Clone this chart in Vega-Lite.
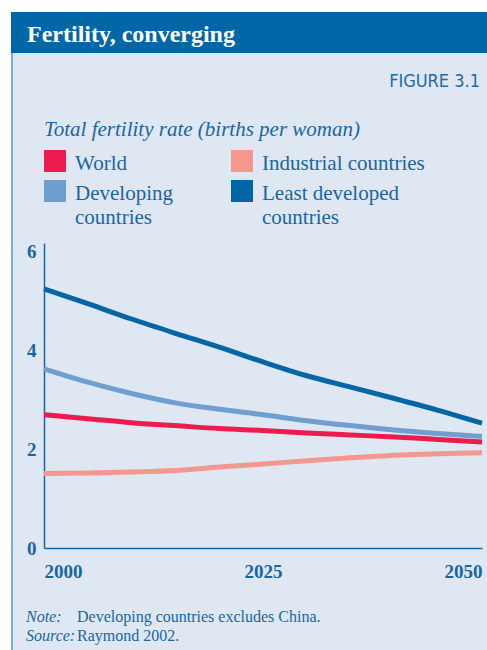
{
  "$schema": "https://vega.github.io/schema/vega-lite/v6.json",
  "background": "#dfe7f2",
  "padding": 0,
  "spacing": 0,
  "config": {
    "view": {"stroke": null},
    "concat": {"spacing": 0},
    "font": "Liberation Serif"
  },
  "vconcat": [
    {"width": 487, "height": 12, "view": {"fill": "#ffffff"}, "data": {"values": [{}]}, "mark": {"type": "text", "text": ""}},
    {
      "spacing": 0,
      "hconcat": [
        {"width": 11, "height": 41, "view": {"fill": "#ffffff"}, "data": {"values": [{}]}, "mark": {"type": "text", "text": ""}},
        {
          "width": 476, "height": 41, "view": {"fill": "#0066a6"},
          "title": {"text": "Fertility, converging", "orient": "top", "anchor": "start", "offset": -54, "dx": 16, "baseline": "alphabetic", "color": "#ffffff", "font": "Liberation Serif", "fontSize": 24, "fontWeight": "bold"},
          "data": {"values": [{}]}, "mark": {"type": "text", "text": ""}
        }
      ]
    },
    {
      "spacing": 0,
      "hconcat": [
        {"width": 11, "height": 597, "view": {"fill": "#ffffff"}, "data": {"values": [{}]}, "mark": {"type": "text", "text": ""}},
        {"width": 2, "height": 597, "view": {"fill": "#7eaad4"}, "data": {"values": [{}]}, "mark": {"type": "text", "text": ""}},
        {
          "spacing": 0,
          "vconcat": [
            {
              "width": 443, "height": 189,
              "title": {"text": "FIGURE 3.1", "orient": "top", "anchor": "end", "offset": -52, "dx": -7, "baseline": "alphabetic", "color": "#1b6aab", "font": "Liberation Sans Narrow, DejaVu Sans Condensed, Liberation Sans", "fontSize": 18, "fontWeight": "normal"},
              "data": {"values": [{}]}, "mark": {"type": "text", "text": ""}
            },
            {
              "width": 438, "height": 305,
              "data": {"values": [
                {"year": 2000, "series": "Industrial countries", "value": 1.51},
                {"year": 2005, "series": "Industrial countries", "value": 1.52},
                {"year": 2010, "series": "Industrial countries", "value": 1.54},
                {"year": 2015, "series": "Industrial countries", "value": 1.57},
                {"year": 2020, "series": "Industrial countries", "value": 1.64},
                {"year": 2025, "series": "Industrial countries", "value": 1.70},
                {"year": 2030, "series": "Industrial countries", "value": 1.77},
                {"year": 2035, "series": "Industrial countries", "value": 1.83},
                {"year": 2040, "series": "Industrial countries", "value": 1.88},
                {"year": 2045, "series": "Industrial countries", "value": 1.91},
                {"year": 2050, "series": "Industrial countries", "value": 1.93},
                {"year": 2000, "series": "Developing countries", "value": 3.63},
                {"year": 2005, "series": "Developing countries", "value": 3.36},
                {"year": 2010, "series": "Developing countries", "value": 3.13},
                {"year": 2015, "series": "Developing countries", "value": 2.94},
                {"year": 2020, "series": "Developing countries", "value": 2.81},
                {"year": 2025, "series": "Developing countries", "value": 2.70},
                {"year": 2030, "series": "Developing countries", "value": 2.58},
                {"year": 2035, "series": "Developing countries", "value": 2.48},
                {"year": 2040, "series": "Developing countries", "value": 2.39},
                {"year": 2045, "series": "Developing countries", "value": 2.32},
                {"year": 2050, "series": "Developing countries", "value": 2.26},
                {"year": 2000, "series": "World", "value": 2.70},
                {"year": 2005, "series": "World", "value": 2.62},
                {"year": 2010, "series": "World", "value": 2.54},
                {"year": 2015, "series": "World", "value": 2.48},
                {"year": 2020, "series": "World", "value": 2.42},
                {"year": 2025, "series": "World", "value": 2.38},
                {"year": 2030, "series": "World", "value": 2.33},
                {"year": 2035, "series": "World", "value": 2.29},
                {"year": 2040, "series": "World", "value": 2.25},
                {"year": 2045, "series": "World", "value": 2.20},
                {"year": 2050, "series": "World", "value": 2.15},
                {"year": 2000, "series": "Least developed countries", "value": 5.25},
                {"year": 2005, "series": "Least developed countries", "value": 4.95},
                {"year": 2010, "series": "Least developed countries", "value": 4.64},
                {"year": 2015, "series": "Least developed countries", "value": 4.35},
                {"year": 2020, "series": "Least developed countries", "value": 4.07},
                {"year": 2025, "series": "Least developed countries", "value": 3.77},
                {"year": 2030, "series": "Least developed countries", "value": 3.49},
                {"year": 2035, "series": "Least developed countries", "value": 3.26},
                {"year": 2040, "series": "Least developed countries", "value": 3.03},
                {"year": 2045, "series": "Least developed countries", "value": 2.79},
                {"year": 2050, "series": "Least developed countries", "value": 2.53}
              ]},
              "mark": {"type": "line", "strokeWidth": 5, "interpolate": "monotone"},
              "encoding": {
                "x": {
                  "field": "year", "type": "quantitative",
                  "scale": {"domain": [2000, 2050], "nice": false, "zero": false},
                  "axis": {"values": [2000, 2025, 2050], "format": "d", "labelFlush": true, "title": null, "grid": false, "ticks": false, "tickSize": 0, "labelPadding": 29, "labelBaseline": "alphabetic", "labelFont": "Liberation Serif", "labelFontSize": 19, "labelFontWeight": "bold", "labelColor": "#1766a6", "domainColor": "#1766a6", "domainWidth": 1.5}
                },
                "y": {
                  "field": "value", "type": "quantitative",
                  "scale": {"domain": [0, 6.18], "nice": false},
                  "axis": {"values": [0, 2, 4, 6], "title": null, "grid": false, "ticks": false, "tickSize": 0, "labelPadding": 8, "minExtent": 31, "maxExtent": 31, "labelFlush": false, "labelFont": "Liberation Serif", "labelFontSize": 19, "labelFontWeight": "bold", "labelColor": "#1766a6", "domainColor": "#1766a6", "domainWidth": 1.5}
                },
                "color": {
                  "field": "series", "type": "nominal",
                  "scale": {"domain": ["World", "Industrial countries", "Developing countries", "Least developed countries"], "range": ["#ec1c4f", "#f4978e", "#6f9fcf", "#0066a6"]},
                  "legend": {
                    "orient": "none", "legendX": 44, "legendY": 119, "padding": 0, "direction": "horizontal",
                    "title": "Total fertility rate (births per woman)",
                    "titleFont": "Liberation Serif", "titleFontSize": 21, "titleFontStyle": "italic", "titleFontWeight": "normal", "titleColor": "#1766a6", "titlePadding": 10, "titleLimit": 500, "titleBaseline": "top",
                    "columns": 2, "columnPadding": 58, "rowPadding": 6,
                    "symbolType": "square", "symbolSize": 484, "symbolStrokeWidth": 0, "symbolOpacity": 1,
                    "labelFont": "Liberation Serif", "labelFontSize": 21, "labelColor": "#1766a6", "labelOffset": 9, "labelLimit": 400, "labelBaseline": "top",
                    "labelExpr": "datum.label == 'Developing countries' ? ['Developing', 'countries'] : datum.label == 'Least developed countries' ? ['Least developed', 'countries'] : datum.label",
                    "encode": {
                      "symbols": {"update": {"fill": {"scale": "color", "field": "value"}, "stroke": {"value": "transparent"}, "strokeWidth": {"value": 0}, "shape": {"value": "square"}}},
                      "labels": {"update": {"dy": {"value": -8}, "lineHeight": {"value": 24}}}
                    }
                  }
                }
              }
            },
            {
              "spacing": 0,
              "hconcat": [
                {
                  "width": 33, "height": 69,
                  "title": {"text": ["Note:", "Source:"], "orient": "top", "anchor": "start", "offset": -76, "dx": -18, "baseline": "alphabetic", "lineHeight": 19, "color": "#1766a6", "font": "Liberation Serif", "fontSize": 16, "fontStyle": "italic", "fontWeight": "normal"},
                  "data": {"values": [{}]}, "mark": {"type": "text", "text": ""}
                },
                {
                  "width": 405, "height": 69,
                  "title": {"text": ["Developing countries excludes China.", "Raymond 2002."], "orient": "top", "anchor": "start", "offset": -76, "baseline": "alphabetic", "lineHeight": 19, "color": "#1766a6", "font": "Liberation Serif", "fontSize": 16, "fontStyle": "normal", "fontWeight": "normal"},
                  "data": {"values": [{}]}, "mark": {"type": "text", "text": ""}
                }
              ]
            }
          ]
        }
      ]
    }
  ]
}
